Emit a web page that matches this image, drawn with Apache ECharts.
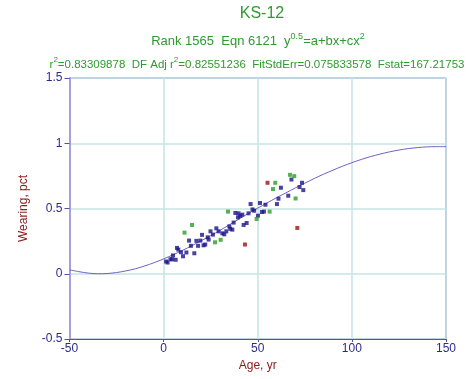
<!DOCTYPE html>
<html><head><meta charset="utf-8">
<script src="https://cdn.jsdelivr.net/npm/echarts@6/dist/echarts.min.js"></script>
<style>html,body{margin:0;padding:0;background:#fff}#c{width:472px;height:379px}</style>
</head><body><div id="c"></div>
<script>
// Primary data points (navy)
const mainX = [1.3,2.1,3.6,4.5,5.0,6.4,7.1,7.8,9.2,10.3,12.1,13.5,14.5,16.3,17.4,18.3,19.5,20.4,21.2,22.1,23.4,23.9,24.9,26.2,28.0,29.2,31.2,32.2,33.3,34.9,35.4,36.5,37.2,38.1,39.8,40.7,39.5,41.8,42.5,44.1,45.1,46.2,47.2,48.1,50.1,51.2,52.2,53.3,54.1,60.2,61.0,62.3,66.2,67.9,72.2,73.5,74.2];
const mainY = [0.094,0.086,0.111,0.111,0.140,0.107,0.198,0.185,0.165,0.134,0.163,0.254,0.214,0.157,0.252,0.214,0.254,0.298,0.218,0.224,0.279,0.262,0.325,0.300,0.348,0.325,0.310,0.302,0.325,0.363,0.344,0.338,0.392,0.466,0.463,0.443,0.432,0.453,0.374,0.389,0.463,0.534,0.493,0.483,0.445,0.542,0.473,0.476,0.529,0.534,0.575,0.659,0.598,0.722,0.664,0.697,0.641];
// Green points
const greenX = [11.1,15.1,27.3,30.3,34.2,49.4,56.3,58.1,59.3,67.1,69.4,70.1];
const greenY = [0.315,0.374,0.241,0.260,0.476,0.420,0.476,0.649,0.697,0.758,0.748,0.577];
// Red (outlier) points
const redX = [55.2,43.2,71.0];
const redY = [0.697,0.224,0.351];
// Fitted curve
const curveX = [-50,-45,-40,-35,-30,-25,-20,-15,-10,-5,0,5,10,15,20,25,30,35,40,45,50,55,60,65,70,75,80,85,90,95,100,105,110,115,120,125,130,135,140,145,150];
const curveY = [0.030,0.016,0.005,0.000,0.002,0.009,0.022,0.038,0.060,0.085,0.114,0.145,0.179,0.215,0.253,0.292,0.333,0.376,0.419,0.462,0.503,0.543,0.583,0.620,0.658,0.694,0.730,0.763,0.794,0.824,0.851,0.876,0.898,0.917,0.934,0.948,0.959,0.967,0.972,0.974,0.974];
const xTicks = [-50,0,50,100,150];
const yTicks = [-0.5,0,0.5,1,1.5];

const zip = (a,b)=>a.map((v,i)=>[v,b[i]]);
const chart = echarts.init(document.getElementById('c'));
const font = '"Liberation Sans", Arial, sans-serif';
const green = '#2f9a2f';
const n = sz=>({fontSize:sz,color:green,fontFamily:font,fontWeight:'normal',verticalAlign:'bottom',lineHeight:sz+3});
const s = sz=>({fontSize:sz,color:green,fontFamily:font,fontWeight:'normal',verticalAlign:'top',lineHeight:sz+1,padding:[0,0,Math.round(sz*0.6),0]});
chart.setOption({
  animation:false,
  textStyle:{fontFamily:font},
  title:[
    {text:'KS-12', left:257, top:1, textAlign:'center', textStyle:{fontSize:16, fontWeight:'normal', color:green, fontFamily:font}},
    {text:'{n|Rank 1565  Eqn 6121  y}{s|0.5}{n|=a+bx+cx}{s|2}', left:253, top:27, textAlign:'center',
      textStyle:{fontWeight:'normal', rich:{n:n(13),s:s(9)}}},
    {text:'{n|r}{s|2}{n|=0.83309878  DF Adj r}{s|2}{n|=0.82551236  FitStdErr=0.075833578  Fstat=167.21753}', left:252, top:51, textAlign:'center',
      textStyle:{fontWeight:'normal', rich:{n:n(11.5),s:s(8)}}}
  ],
  grid:{left:69.5, right:26, top:78, bottom:40, show:true, borderColor:'#5b4db0', borderWidth:1, backgroundColor:'transparent'},
  xAxis:{type:'value', min:-50, max:150, interval:50,
    name:'Age, yr', nameLocation:'middle', nameGap:19, nameTextStyle:{color:'#8b1a1a', fontSize:12, fontFamily:font},
    axisLine:{show:true, onZero:false, lineStyle:{color:'#5b4db0', width:1}},
    axisTick:{show:true, length:3, lineStyle:{color:'#5b4db0'}},
    axisLabel:{color:'#2b2b8f', fontSize:12, margin:4, fontFamily:font},
    splitLine:{show:true, lineStyle:{color:'#c4e4e4', width:1.5}}},
  yAxis:{type:'value', min:-0.5, max:1.5, interval:0.5,
    name:'Wearing, pct', nameLocation:'middle', nameGap:40, nameTextStyle:{color:'#8b1a1a', fontSize:12, fontFamily:font},
    axisLine:{show:true, onZero:false, lineStyle:{color:'#a6a0d8', width:2}},
    axisTick:{show:true, length:5, lineStyle:{color:'#5b4db0'}},
    axisLabel:{color:'#2b2b8f', fontSize:12, margin:7, fontFamily:font, formatter:v=>String(v)},
    splitLine:{show:true, lineStyle:{color:'#c4e4e4', width:1.5}}},
  series:[
    {type:'line', data:zip(curveX,curveY), showSymbol:false, smooth:0.3, lineStyle:{color:'#6f60c4', width:1}, z:2},
    {type:'scatter', data:zip(mainX,mainY), symbol:'rect', symbolSize:4, itemStyle:{color:'#1c1488'}, z:3},
    {type:'scatter', data:zip(greenX,greenY), symbol:'rect', symbolSize:4, itemStyle:{color:'#2c9c2c'}, z:3},
    {type:'scatter', data:zip(redX,redY), symbol:'rect', symbolSize:4, itemStyle:{color:'#9a1414'}, z:3}
  ]
});
</script></body></html>
